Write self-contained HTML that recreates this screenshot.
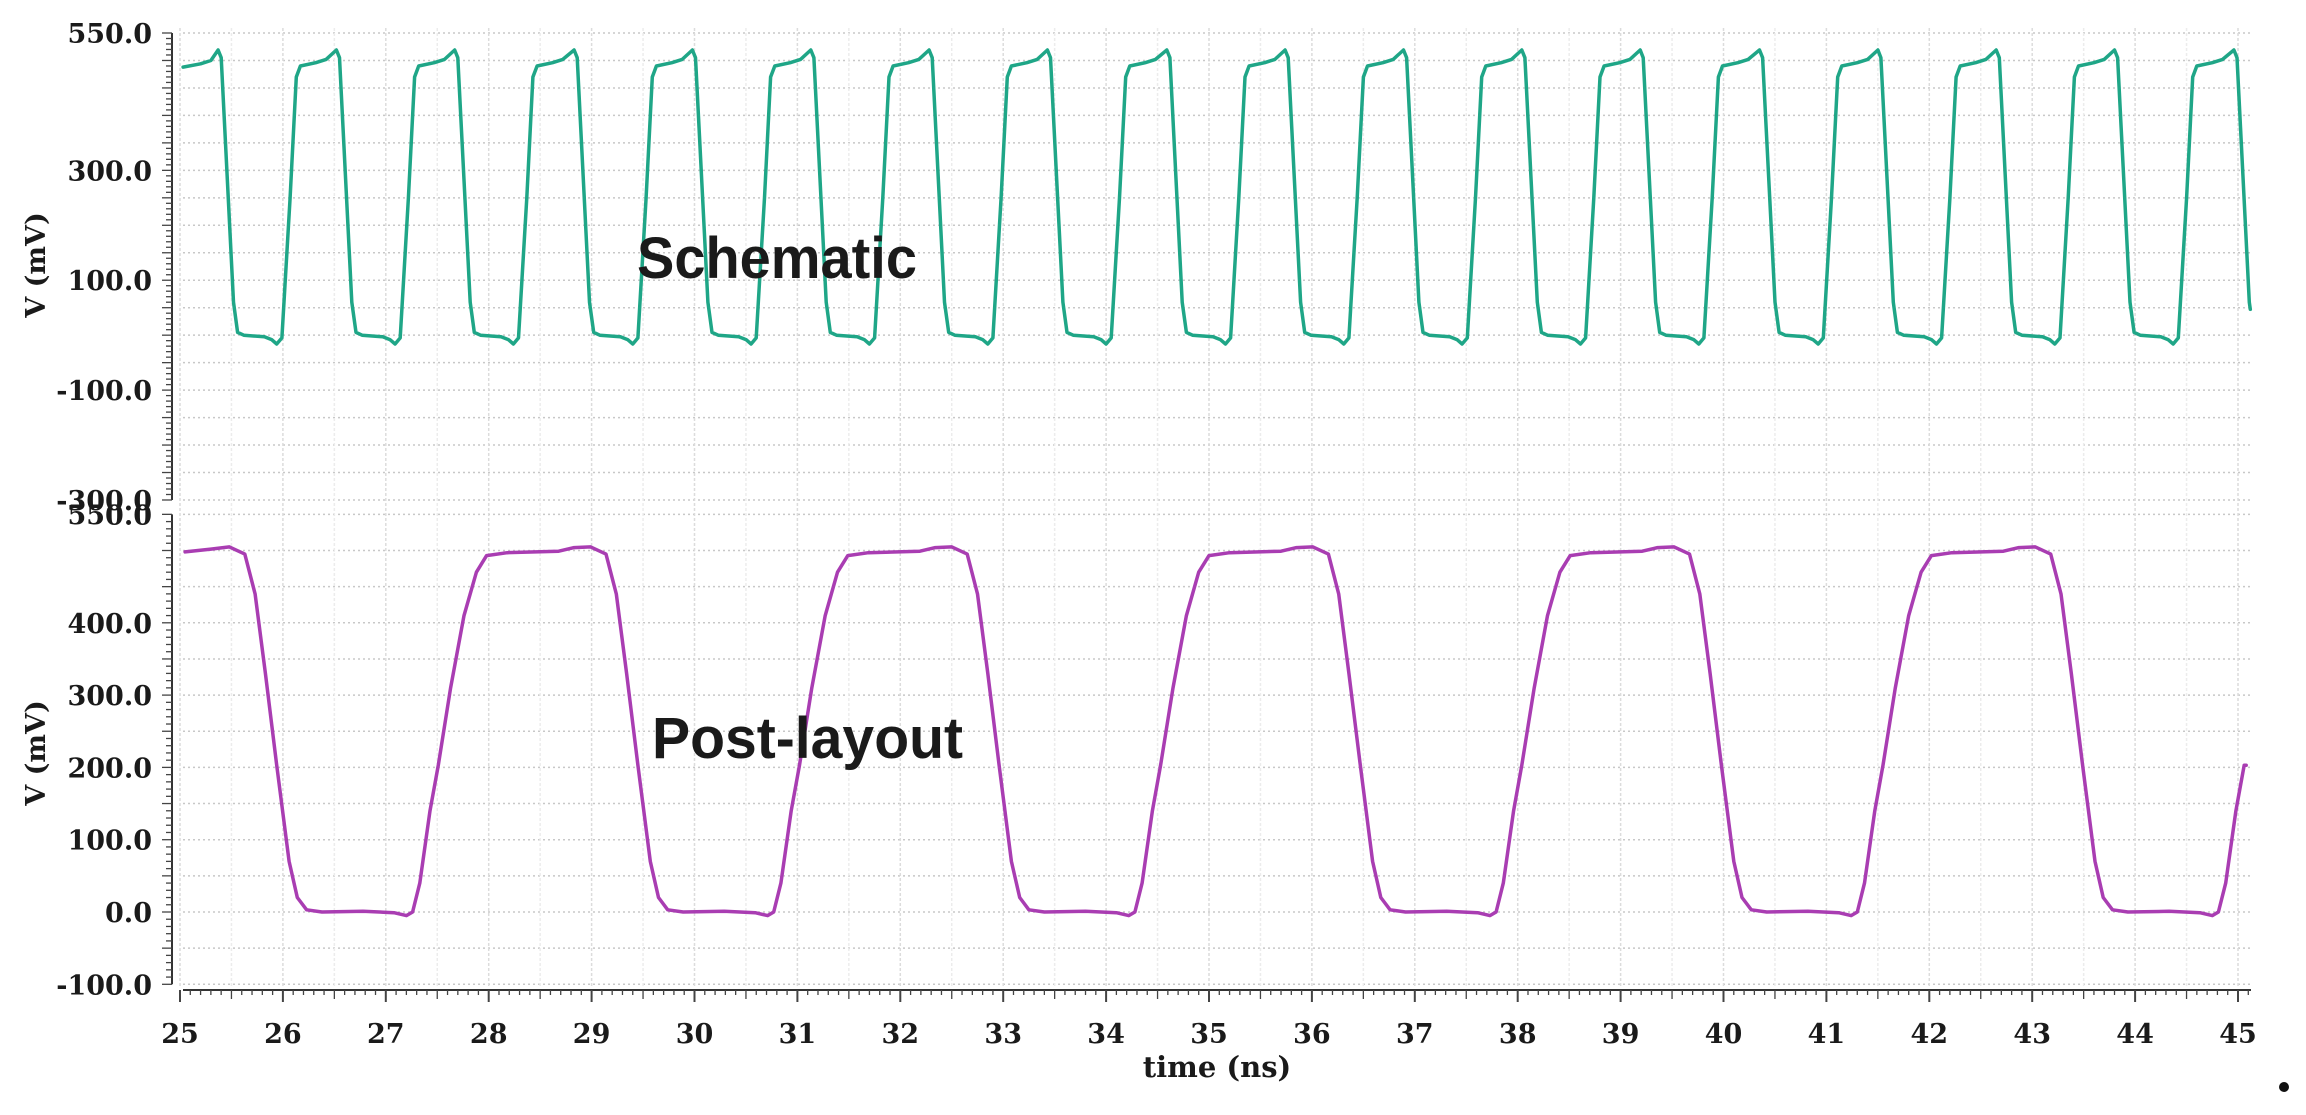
<!DOCTYPE html>
<html><head><meta charset="utf-8"><style>
html,body{margin:0;padding:0;background:#fff;}
svg{display:block;}
</style></head><body>
<svg id="chart" width="2306" height="1115" viewBox="0 0 2306 1115" xmlns="http://www.w3.org/2000/svg">
<g id="grid"></g>
<g id="axes"></g>
<g id="series"></g>
<text x="637" y="278" font-family="'Liberation Sans', sans-serif" font-weight="bold" font-size="58" fill="#1a1a1a" textLength="280" lengthAdjust="spacingAndGlyphs">Schematic</text>
<text x="652" y="758" font-family="'Liberation Sans', sans-serif" font-weight="bold" font-size="58" fill="#1a1a1a" textLength="311" lengthAdjust="spacingAndGlyphs">Post-layout</text>
<text x="1217" y="1077" text-anchor="middle" font-family="'DejaVu Serif', serif" font-weight="bold" font-size="29" fill="#1a1a1a">time (ns)</text>
<circle cx="2284" cy="1087" r="5" fill="#111"/>
</svg>
<script>
// ---- data ----
const xTicks = [25,26,27,28,29,30,31,32,33,34,35,36,37,38,39,40,41,42,43,44,45];
const topTickLabels = [550,300,100,-100,-300];
const botTickLabels = [550,400,300,200,100,0,-100];
const schPeaks = [25.37,26.52,27.67,28.83,29.98,31.13,32.28,33.43,34.59,35.74,36.89,38.04,39.19,40.35,41.50,42.65,43.80,44.96];
const schShapeT = [0,0.03,0.15,0.19,0.25,0.45,0.52,0.57,0.62,0.70,0.76,0.80,0.95,1.05];
const schShapeV = [519,505,60,5,0,-3,-8,-16,-5,250,470,490,496,502];
const schStartT = [25.03,25.2,25.3];
const schStartV = [488,494,500];
const schEndT = [45.12];
const schEndV = [47];
const postPeaks = [25.48,28.99,32.50,36.01,39.52,43.03];
const postShapeT = [0,0.15,0.25,0.35,0.46,0.58,0.66,0.75,0.9,1.3,1.6,1.72,1.78,1.85,1.95,2.03,2.15,2.28,2.4,2.5,2.7,3.2,3.35];
const postShapeV = [505,495,440,330,203,70,20,3,0,1,-1,-5,0,40,140,203,310,410,470,493,497,499,504];
const postStartT = [25.05,25.3];
const postStartV = [498,502];
const postEndT = [45.08];
const postEndV = [203];

// ---- scales ----
const X0 = 180, PX_NS = 102.9;
function xs(t){ return X0 + (t-25)*PX_NS; }
function yTop(v){ return 33 + (550-v)*0.5494; }
function yBot(v){ return 912 - v*0.723; }
const NS = 'http://www.w3.org/2000/svg';
function el(tag, attrs, parent){ const e=document.createElementNS(NS,tag); for(const k in attrs) e.setAttribute(k,attrs[k]); parent.appendChild(e); return e; }
const grid = document.getElementById('grid');
const axes = document.getElementById('axes');
const series = document.getElementById('series');
const XL = 183, XR = 2251;
const SERIF = "'DejaVu Serif', serif";

for (let v=550; v>=-300; v-=50){
  const y=yTop(v);
  const g=el('line',{x1:XL,x2:XR,y1:y,y2:y,stroke:'#c8c8c8','stroke-width':1.5,'stroke-dasharray':'2,3'},grid);
  
  
}
for (let v=550; v>=-100; v-=50){
  const y=yBot(v);
  const g=el('line',{x1:XL,x2:XR,y1:y,y2:y,stroke:'#c8c8c8','stroke-width':1.5,'stroke-dasharray':'2,3'},grid);
  
  
}
for (let t=25; t<=45.01; t+=0.5){
  const x=xs(t);
  const g=el('line',{x1:x,x2:x,y1:28,y2:988,stroke:(Math.abs(t-Math.round(t))<0.01?'#dcdcdc':'#ececec'),'stroke-width':1.5,'stroke-dasharray':'3,2'},grid);
  
  
}

const AX = 172;
function yAxis(yf, vmin, vmax, labels, name){
  const l=el('line',{x1:AX,x2:AX,y1:yf(vmax),y2:yf(vmin),stroke:'#333','stroke-width':2},axes);
  
  
  for (let v=vmin; v<=vmax; v+=10){
    const major = v%50===0;
    const t=el('line',{x1:AX-(major?10:6),x2:AX,y1:yf(v),y2:yf(v),stroke:'#444','stroke-width':1.3},axes);
    
    
  }
  labels.forEach(v=>{
    const tx=el('text',{x:152,y:yf(v)+10,'text-anchor':'end','font-family':SERIF,'font-weight':'bold','font-size':27,fill:'#1a1a1a'},axes);
    tx.textContent=v.toFixed(1);
    
    
  });
}
yAxis(yTop,-300,550,topTickLabels,'top-y');
yAxis(yBot,-100,550,botTickLabels,'bottom-y');
[[265,'top-y-axis-title'],[753,'bottom-y-axis-title']].forEach(([cy,n])=>{
  const tx=el('text',{x:0,y:0,transform:`translate(45,${cy}) rotate(-90)`,'text-anchor':'middle','font-family':SERIF,'font-weight':'bold','font-size':27,fill:'#1a1a1a'},axes);
  tx.textContent='V (mV)';
  
  
});

const AY = 990;
const xl=el('line',{x1:XL,x2:XR,y1:AY,y2:AY,stroke:'#333','stroke-width':2},axes);


for (let i=0;i<=201;i++){
  const t=25+i*0.1; if (t>45.12) break;
  const major = i%10===0, mid = i%5===0;
  const tk=el('line',{x1:xs(t),x2:xs(t),y1:AY,y2:AY+(major?12:(mid?9:5)),stroke:'#444','stroke-width':major?2:1.3},axes);
  
  
}
xTicks.forEach(t=>{
  const tx=el('text',{x:xs(t),y:1043,'text-anchor':'middle','font-family':SERIF,'font-weight':'bold','font-size':27,fill:'#1a1a1a'},axes);
  tx.textContent=String(t);
  
  
});

function buildPts(startT,startV,peaks,shT,shV,endT,endV){
  const pts=[];
  startT.forEach((t,i)=>pts.push([t,startV[i]]));
  peaks.forEach((p,k)=>{
    shT.forEach((o,j)=>{ const t=p+o; if (k===peaks.length-1 || t < peaks[k+1]) { if (t<=endT[0]) pts.push([t,shV[j]]); } });
  });
  endT.forEach((t,i)=>pts.push([t,endV[i]]));
  pts.sort((a,b)=>a[0]-b[0]);
  return pts;
}
function drawSeries(pts,yf,color,name){
  const d=pts.map((p,i)=>(i?'L':'M')+xs(p[0]).toFixed(1)+','+yf(p[1]).toFixed(1)).join(' ');
  const path=el('path',{d:d,fill:'none',stroke:color,'stroke-width':3.5,'stroke-linejoin':'round','stroke-linecap':'round'},series);
  
  
}
drawSeries(buildPts(schStartT,schStartV,schPeaks,schShapeT,schShapeV,schEndT,schEndV),yTop,'#1fa687','schematic-line');
drawSeries(buildPts(postStartT,postStartV,postPeaks,postShapeT,postShapeV,postEndT,postEndV),yBot,'#a93db2','post-layout-line');
</script>
</body></html>
